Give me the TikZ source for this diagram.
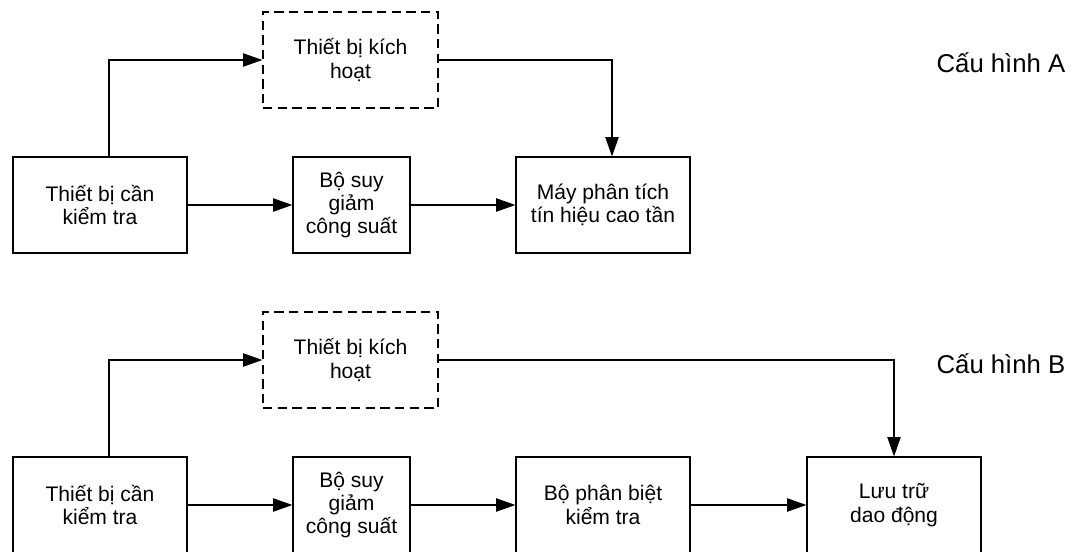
\documentclass[tikz,border=0pt]{standalone}
\usepackage{fontspec}
\setmainfont{Liberation Sans}
\usetikzlibrary{arrows.meta}

\begin{document}
\begin{tikzpicture}[x=0.75pt,y=-0.75pt,line width=0.9pt,
    blk/.style={draw,align=center,inner sep=0pt,minimum height=72pt,font=\fontsize{15.8}{17.5}\selectfont},
    trig/.style={blk,dash pattern=on 7pt off 4pt},
    arr/.style={-{Triangle[length=14.5pt,width=10pt]}},
    cfg/.style={anchor=base west,inner sep=0pt,font=\fontsize{19.3}{23}\selectfont}]
    \useasboundingbox (0,0) rectangle (1077,552);
    % cau hinh A
    \node[blk,minimum width=130.5pt] (dutA) at (100,205) {Thiết bị cần\\kiểm tra};
    \node[blk,minimum width=87.75pt] (attA) at (351.5,205) {Bộ suy\\giảm\\công suất};
    \node[trig,minimum width=131.25pt] (trigA) at (350.5,60) {Thiết bị kích\\hoạt};
    \node[blk,minimum width=130.5pt] (anaA) at (603,205) {Máy phân tích\\tín hiệu cao tần};
    \node[cfg] (cfgA) at (936,73) {Cấu hình A};
    \draw[arr] (dutA) -- (attA);
    \draw[arr] (attA) -- (anaA);
    \draw[arr] ([xshift=6.75pt]dutA.north) |- (trigA);
    \draw[arr] (trigA) -| ([xshift=6.75pt]anaA.north);
    % cau hinh B
    \node[blk,minimum width=130.5pt] (dutB) at (100,505) {Thiết bị cần\\kiểm tra};
    \node[blk,minimum width=87.75pt] (attB) at (351.5,505) {Bộ suy\\giảm\\công suất};
    \node[trig,minimum width=131.25pt] (trigB) at (350.5,360) {Thiết bị kích\\hoạt};
    \node[blk,minimum width=130.5pt] (discB) at (603,505) {Bộ phân biệt\\kiểm tra};
    \node[blk,minimum width=130.5pt] (storB) at (894,505) {Lưu trữ\\dao động};
    \node[cfg] (cfgB) at (936,373) {Cấu hình B};
    \draw[arr] (dutB) -- (attB);
    \draw[arr] (attB) -- (discB);
    \draw[arr] (discB) -- (storB);
    \draw[arr] ([xshift=6.75pt]dutB.north) |- (trigB);
    \draw[arr] (trigB) -| (storB);
\end{tikzpicture}
\end{document}
